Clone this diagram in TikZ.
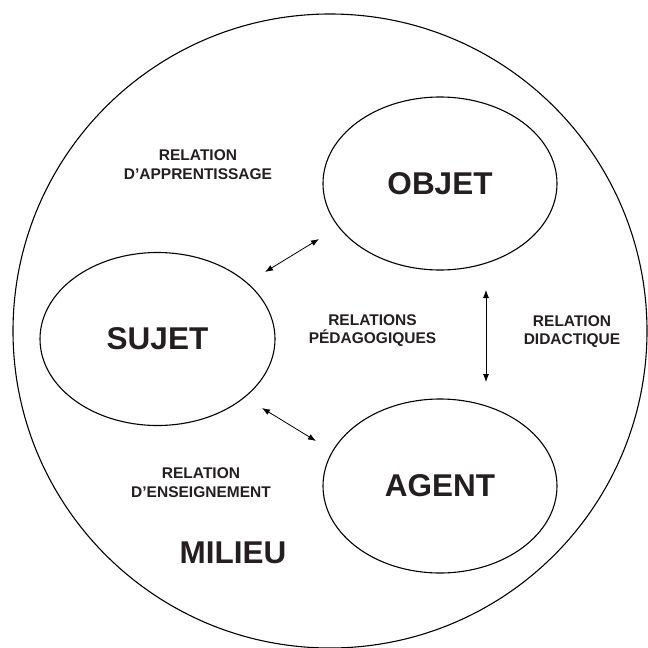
\documentclass[tikz,border=0pt]{standalone}
\usepackage{fontspec}
\setmainfont{Liberation Sans}
\usetikzlibrary{shapes.geometric,arrows.meta}
\definecolor{inkc}{HTML}{231F20}
\tikzset{
  bigel/.style={draw=black, line width=1.1pt, ellipse, inner sep=0pt, text=inkc,
    font=\fontsize{31.5}{36}\selectfont\bfseries},
  small/.style={text=inkc, align=center, inner sep=0pt,
    font=\fontsize{15.5}{18.3}\selectfont\bfseries},
  big/.style={text=inkc, inner sep=0pt, font=\fontsize{31.5}{36}\selectfont\bfseries},
  rel/.style={draw=black, line width=0.8pt, {Latex[length=8pt,width=6pt]}-{Latex[length=8pt,width=6pt]}}
}
\begin{document}
\begin{tikzpicture}[x=1pt,y=-1pt]
\useasboundingbox (0,0) rectangle (648,648);
\node[draw=black, line width=1.1pt, circle, minimum size=634pt, inner sep=0pt] (milieuc) at (330,331) {};
\node[bigel, minimum width=234pt, minimum height=173pt] (objet) at (440,183.5) {OBJET};
\node[bigel, minimum width=235pt, minimum height=173pt] (sujet) at (157.5,339) {SUJET};
\node[bigel, minimum width=234pt, minimum height=174pt] (agent) at (440,486) {AGENT};
\node[small, anchor=base] (lapp) at (198,179) {RELATION\\D’APPRENTISSAGE};
\node[small, anchor=base] (lped) at (372.5,343.5) {RELATIONS\\PÉDAGOGIQUES};
\node[small, anchor=base] (ldid) at (572,344.5) {RELATION\\DIDACTIQUE};
\node[small, anchor=base] (lens) at (201,497) {RELATION\\D’ENSEIGNEMENT};
\node[big, anchor=base] (lmil) at (233,563) {MILIEU};
\coordinate (a1) at (265,272);
\coordinate (a2) at (319,239);
\coordinate (b1) at (262,408);
\coordinate (b2) at (316,441);
\coordinate (c1) at (486,290);
\coordinate (c2) at (486,382);
\draw[rel] (a1) -- (a2);
\draw[rel] (b1) -- (b2);
\draw[rel] (c1) -- (c2);
\end{tikzpicture}
\end{document}
